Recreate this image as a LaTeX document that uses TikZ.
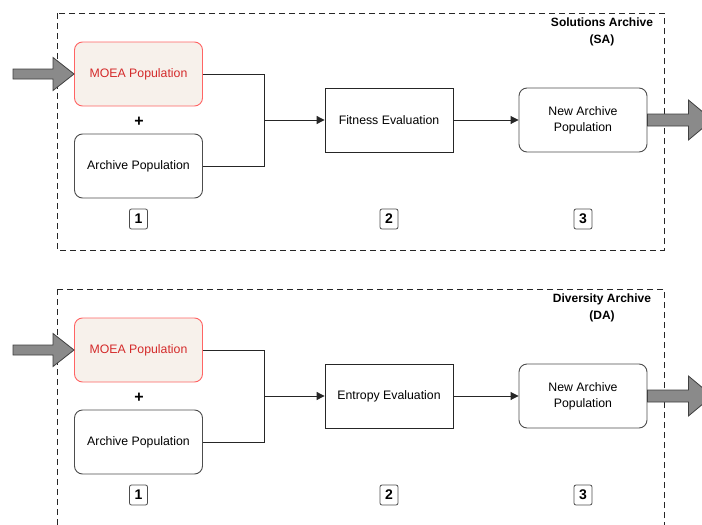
\documentclass[tikz,border=0pt]{standalone}
\usepackage{fontspec}
\setmainfont{Liberation Sans}
\usetikzlibrary{arrows.meta,calc}
\definecolor{moeafill}{HTML}{F7F1EB}
\definecolor{moeaborder}{HTML}{FF6464}
\definecolor{moeatext}{HTML}{D42A2A}
\definecolor{boxline}{HTML}{4D4D4D}
\definecolor{bigarrowfill}{HTML}{8A8A8A}
\tikzset{
  rbox/.style={draw=boxline, line width=0.9pt, rounded corners=8pt, minimum width=128pt, minimum height=64pt, inner sep=2pt, align=center, font=\fontsize{12.3}{16}\selectfont},
  sbox/.style={draw=black!85, line width=0.8pt, minimum width=128pt, minimum height=64pt, inner sep=2pt, align=center, font=\fontsize{12.3}{16}\selectfont},
  moea/.style={rbox, draw=moeaborder, fill=moeafill, text=moeatext},
  numbox/.style={draw=boxline, line width=0.8pt, rounded corners=2pt, minimum width=18pt, minimum height=20pt, inner sep=0pt, font=\bfseries\fontsize{14}{14}\selectfont},
  frame/.style={draw=black!85, line width=0.8pt, dash pattern=on 6pt off 4pt},
  conn/.style={draw=black!85, line width=0.9pt},
  arr/.style={conn, -{Triangle[length=8pt,width=8pt]}},
  bigarrow/.style={draw=black!75, line width=0.8pt, fill=bigarrowfill, line join=miter},
  title/.style={align=center, font=\bfseries\fontsize{12}{17}\selectfont},
  plus/.style={font=\bfseries\fontsize{16}{16}\selectfont, inner sep=0pt}
}
\begin{document}
\begin{tikzpicture}[x=1pt,y=-1pt]
\useasboundingbox (0,0) rectangle (702,525);
\clip (0,0) rectangle (702,525);
\fill[white] (0,0) rectangle (702,525);
\foreach \s/\dy/\ev/\ttl/\ab/\fb in {a/0/Fitness/Solutions/SA/250, b/276/Entropy/Diversity/DA/560}{
  \draw[frame] (57,13+\dy) rectangle (664,\fb);
  \node[title] (title\s) at (602,32+\dy) {\ttl{} Archive\\(\ab)};
  \node[moea] (moea\s) at (138.5,74+\dy) {MOEA Population};
  \node[plus] (plus\s) at (139,122+\dy) {+};
  \node[rbox] (arch\s) at (138.5,166+\dy) {Archive Population};
  \node[sbox] (eval\s) at (389,120+\dy) {\ev{} Evaluation};
  \node[rbox] (new\s) at (583,120+\dy) {New Archive\\Population};
  \node[numbox] (one\s) at (138.5,219+\dy) {1};
  \node[numbox] (two\s) at (389,219+\dy) {2};
  \node[numbox] (three\s) at (583,219+\dy) {3};
  \coordinate (join\s) at (264,120+\dy);
  \draw[conn] (moea\s.east) -| (join\s);
  \draw[conn] (arch\s.east) -| (join\s);
  \draw[arr] (join\s) -- (eval\s.west);
  \draw[arr] (eval\s.east) -- (new\s.west);
  \draw[bigarrow] (moea\s.west) -- ++(-21,-16.5) -- ++(0,11.5) -- ++(-40,0) -- ++(0,10) -- ++(40,0) -- ++(0,11.5) -- cycle;
  \draw[bigarrow] (new\s.east) ++(0,-6) -- ++(41,0) -- ++(0,-14) -- ++(24,20) -- ++(-24,20) -- ++(0,-14) -- ++(-41,0) -- cycle;
}
\end{tikzpicture}
\end{document}
